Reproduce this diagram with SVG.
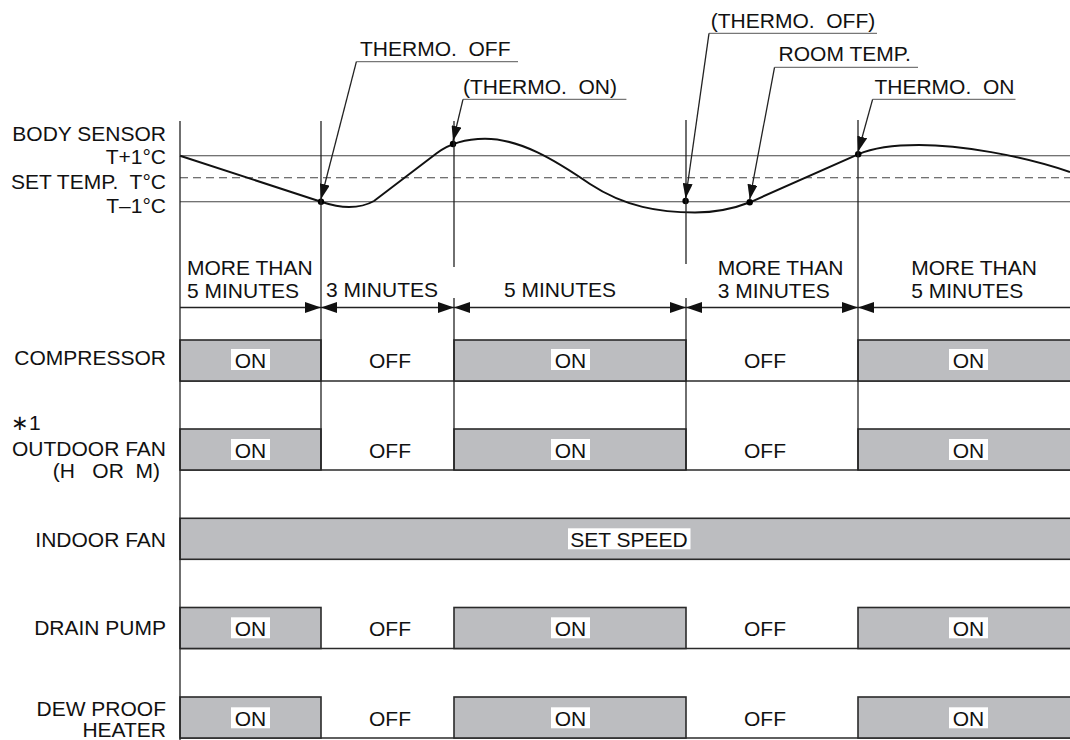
<svg xmlns="http://www.w3.org/2000/svg" width="1070" height="740" viewBox="0 0 1070 740">
<style>
text{font-family:"Liberation Sans",Arial,sans-serif;font-size:21px;fill:#111;white-space:pre}
.r{text-anchor:end}
.m{text-anchor:middle}
.ln{stroke:#222;stroke-width:1.3;fill:none}
.th{stroke:#444;stroke-width:1.1;fill:none}
.ul{stroke:#777;stroke-width:1.3;fill:none}
.bar{fill:#bcbdc0;stroke:#2a2a2a;stroke-width:1.6}
.base{stroke:#2a2a2a;stroke-width:1.6}
.wb{fill:#fff}
.dot{fill:#000}
.ah{fill:#111}
</style>
<defs>
<marker id="arr" markerUnits="userSpaceOnUse" markerWidth="16" markerHeight="10" refX="15" refY="5" orient="auto" viewBox="0 0 16 10">
<path d="M0,0 L15,5 L0,10 z" fill="#111"/>
</marker>
<path id="dimL" d="M0,0 L-16,-5.5 L-16,5.5 z"/>
<path id="dimR" d="M0,0 L16,-5.5 L16,5.5 z"/>
</defs>
<rect width="1070" height="740" fill="#fff"/>

<g id="temperature-chart">
<line class="th" x1="180" y1="155.7" x2="1070" y2="155.7"/>
<line class="th" x1="180" y1="177.7" x2="1070" y2="177.7" stroke-dasharray="8,5" stroke="#666"/>
<line class="th" x1="180" y1="201.7" x2="1070" y2="201.7"/>
<path id="body-sensor-curve" d="M180,155.7 L321,201.7 C332,205.3 340,207 349,207 C360,207 367,205 374,201 L437,153 C447,145.5 462,138.7 485,138.7 C520,138.7 555,160 590,184 C625,207 660,212.5 695,212.5 C722,212.5 738,207 750,202.3 L858,154.3 C875,147 895,145 919,145 C960,145 1020,155 1070,172" fill="none" stroke="#111" stroke-width="2"/>
<circle class="dot" cx="321" cy="201.7" r="3.2"/>
<circle class="dot" cx="453" cy="144" r="3.2"/>
<circle class="dot" cx="685.6" cy="201" r="3.2"/>
<circle class="dot" cx="749.7" cy="202.3" r="3.2"/>
<circle class="dot" cx="858.2" cy="154.3" r="3.2"/>
</g>

<g id="axis-labels">
<text class="r" x="166" y="141">BODY SENSOR</text>
<text class="r" x="166" y="164">T+1°C</text>
<text class="r" x="166" y="188.7">SET TEMP.  T°C</text>
<text class="r" x="166" y="213.3">T–1°C</text>
</g>

<g id="callout-thermo-off">
<text x="360" y="56">THERMO.  OFF</text>
</g>
<g id="callout-thermo-on-paren">
<text x="463" y="94">(THERMO.  ON)</text>
</g>
<g id="callout-thermo-off-paren">
<text x="710.8" y="28">(THERMO.  OFF)</text>
</g>
<g id="callout-room-temp">
<text x="778.6" y="60.7">ROOM TEMP.</text>
</g>
<g id="callout-thermo-on">
<text x="874.4" y="94">THERMO.  ON</text>
</g>

<g id="duration-labels">
<text x="187" y="275">MORE THAN</text>
<text x="187" y="297.5">5 MINUTES</text>
<text x="326" y="297">3 MINUTES</text>
<text class="m" x="560" y="297">5 MINUTES</text>
<text x="717.7" y="275">MORE THAN</text>
<text x="717.7" y="297.5">3 MINUTES</text>
<text x="911.2" y="275">MORE THAN</text>
<text x="911.2" y="297.5">5 MINUTES</text>
</g>

<g id="row-compressor">
<text class="r" x="166" y="365">COMPRESSOR</text>
<line class="base" x1="180" y1="381" x2="1070" y2="381"/>
<rect class="bar" x="180" y="340" width="141" height="41"/>
<rect class="bar" x="454" y="340" width="232" height="41"/>
<rect class="bar" x="858" y="340" width="214" height="41"/>
<rect class="wb" x="231" y="349" width="39" height="21"/><text class="m" x="250.5" y="367.5">ON</text>
<rect class="wb" x="551" y="349" width="39" height="21"/><text class="m" x="570.5" y="367.5">ON</text>
<rect class="wb" x="949" y="349" width="39" height="21"/><text class="m" x="968.5" y="367.5">ON</text>
<text class="m" x="390" y="367.5">OFF</text>
<text class="m" x="765" y="367.5">OFF</text>
</g>

<g id="row-outdoor-fan">
<text x="11" y="430">∗1</text>
<text class="r" x="166" y="455.5">OUTDOOR FAN</text>
<text class="r" x="160" y="477.5">(H   OR  M)</text>
<line class="base" x1="180" y1="470" x2="1070" y2="470"/>
<rect class="bar" x="180" y="429" width="141" height="41"/>
<rect class="bar" x="454" y="429" width="232" height="41"/>
<rect class="bar" x="858" y="429" width="214" height="41"/>
<rect class="wb" x="231" y="439" width="39" height="21"/><text class="m" x="250.5" y="457.5">ON</text>
<rect class="wb" x="551" y="439" width="39" height="21"/><text class="m" x="570.5" y="457.5">ON</text>
<rect class="wb" x="949" y="439" width="39" height="21"/><text class="m" x="968.5" y="457.5">ON</text>
<text class="m" x="390" y="457.5">OFF</text>
<text class="m" x="765" y="457.5">OFF</text>
</g>

<g id="row-indoor-fan">
<text class="r" x="166" y="546.7">INDOOR FAN</text>
<rect class="bar" x="180" y="518.3" width="892" height="41"/>
<rect class="wb" x="568" y="528.3" width="122.5" height="21"/>
<text x="570.3" y="546.5">SET SPEED</text>
</g>

<g id="row-drain-pump">
<text class="r" x="166" y="635">DRAIN PUMP</text>
<line class="base" x1="180" y1="648.5" x2="1070" y2="648.5"/>
<rect class="bar" x="180" y="607.5" width="141" height="41"/>
<rect class="bar" x="454" y="607.5" width="232" height="41"/>
<rect class="bar" x="858" y="607.5" width="214" height="41"/>
<rect class="wb" x="231" y="617.3" width="39" height="21"/><text class="m" x="250.5" y="635.8">ON</text>
<rect class="wb" x="551" y="617.3" width="39" height="21"/><text class="m" x="570.5" y="635.8">ON</text>
<rect class="wb" x="949" y="617.3" width="39" height="21"/><text class="m" x="968.5" y="635.8">ON</text>
<text class="m" x="390" y="635.8">OFF</text>
<text class="m" x="765" y="635.8">OFF</text>
</g>

<g id="row-dew-proof-heater">
<text class="r" x="166" y="716">DEW PROOF</text>
<text class="r" x="166" y="736.7">HEATER</text>
<line class="base" x1="180" y1="738" x2="1070" y2="738"/>
<rect class="bar" x="180" y="697" width="141" height="41"/>
<rect class="bar" x="454" y="697" width="232" height="41"/>
<rect class="bar" x="858" y="697" width="214" height="41"/>
<rect class="wb" x="231" y="707.3" width="39" height="21"/><text class="m" x="250.5" y="725.8">ON</text>
<rect class="wb" x="551" y="707.3" width="39" height="21"/><text class="m" x="570.5" y="725.8">ON</text>
<rect class="wb" x="949" y="707.3" width="39" height="21"/><text class="m" x="968.5" y="725.8">ON</text>
<text class="m" x="390" y="725.8">OFF</text>
<text class="m" x="765" y="725.8">OFF</text>
</g>

<g id="connectors">
<line class="ln" x1="180" y1="121" x2="180" y2="740"/>
<line class="ln" x1="321" y1="121" x2="321" y2="470"/>
<line class="ln" x1="454" y1="121" x2="454" y2="267"/>
<line class="ln" x1="454" y1="298" x2="454" y2="470"/>
<line class="ln" x1="686" y1="120" x2="686" y2="264"/>
<line class="ln" x1="686" y1="298" x2="686" y2="470"/>
<line class="ln" x1="858" y1="120" x2="858" y2="470"/>
<line class="ln" x1="180" y1="307.5" x2="1070" y2="307.5"/>
<g class="ah">
<use href="#dimL" x="321" y="307.5"/><use href="#dimR" x="321" y="307.5"/>
<use href="#dimL" x="454" y="307.5"/><use href="#dimR" x="454" y="307.5"/>
<use href="#dimL" x="686" y="307.5"/><use href="#dimR" x="686" y="307.5"/>
<use href="#dimL" x="858" y="307.5"/><use href="#dimR" x="858" y="307.5"/>
</g>
<polyline class="ul" points="518,61.7 356.4,61.7"/>
<line class="ln" x1="356.4" y1="61.7" x2="321" y2="199" marker-end="url(#arr)"/>
<polyline class="ul" points="626.4,99.3 463,99.3"/>
<line class="ln" x1="463" y1="99.3" x2="453" y2="141" marker-end="url(#arr)"/>
<polyline class="ul" points="877,33.3 709,33.3"/>
<line class="ln" x1="709" y1="33.3" x2="685.6" y2="198.5" marker-end="url(#arr)"/>
<polyline class="ul" points="918,67.3 774.5,67.3"/>
<line class="ln" x1="774.5" y1="67.3" x2="749.7" y2="199.5" marker-end="url(#arr)"/>
<polyline class="ul" points="1015.5,99.3 872.6,99.3"/>
<line class="ln" x1="872.6" y1="99.3" x2="858.2" y2="151.5" marker-end="url(#arr)"/>
</g>
</svg>
